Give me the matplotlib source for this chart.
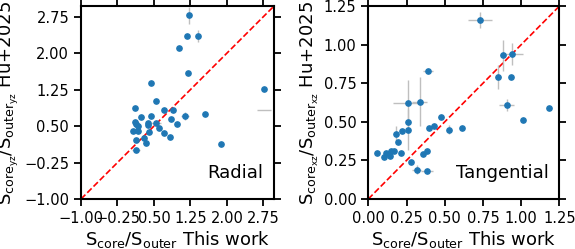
import matplotlib
matplotlib.use('Agg')
import matplotlib.pyplot as plt

plt.rcParams['mathtext.default'] = 'regular'

# Radial: this work vs Hu+2025
rad_x = [1.22, 1.17, 1.41, 1.02, 1.21, 2.76, 0.44, 0.54, 0.12, 0.70, 0.89, 0.24,
         0.44, 1.14, 1.54, 0.86, 0.12, 0.13, 0.17, 0.37, 0.37, 0.54, 0.98, 0.61,
         0.07, 0.18, 0.40, 0.70, 0.84, 0.13, 0.29, 0.33, 1.88, 0.13]
rad_y = [2.78, 2.35, 2.35, 2.10, 1.60, 1.27, 1.39, 1.01, 0.87, 0.83, 0.83, 0.68,
         0.71, 0.70, 0.75, 0.64, 0.59, 0.55, 0.50, 0.56, 0.52, 0.56, 0.54, 0.46,
         0.39, 0.39, 0.37, 0.35, 0.28, 0.21, 0.25, 0.16, 0.14, 0.00]
rad_xerr = [0.02, 0.02, 0.03, 0.02, 0.02, 0.02, 0.02, 0.02, 0.02, 0.02, 0.02, 0.05,
            0.02, 0.08, 0.02, 0.02, 0.02, 0.02, 0.02, 0.02, 0.02, 0.10, 0.02, 0.02,
            0.02, 0.02, 0.02, 0.02, 0.02, 0.02, 0.02, 0.05, 0.02, 0.08]
rad_yerr = [0.18, 0.03, 0.12, 0.02, 0.02, 0.02, 0.02, 0.02, 0.02, 0.02, 0.02, 0.02,
            0.02, 0.08, 0.02, 0.02, 0.02, 0.02, 0.02, 0.02, 0.02, 0.02, 0.02, 0.02,
            0.02, 0.02, 0.02, 0.02, 0.02, 0.02, 0.02, 0.04, 0.02, 0.02]
# errorbar with no visible marker
rad_extra = (2.76, 0.83, 0.14)

# Tangential
tan_x = [0.73, 0.88, 0.94, 0.85, 0.93, 0.905, 1.01, 1.18, 0.39, 0.26, 0.336, 0.257,
         0.257, 0.18, 0.22, 0.194, 0.059, 0.105, 0.113, 0.144, 0.15, 0.168, 0.214,
         0.28, 0.316, 0.384, 0.356, 0.384, 0.40, 0.43, 0.478, 0.53, 0.61]
tan_y = [1.16, 0.93, 0.94, 0.79, 0.79, 0.61, 0.51, 0.59, 0.83, 0.62, 0.63, 0.50,
         0.45, 0.42, 0.44, 0.37, 0.30, 0.27, 0.30, 0.28, 0.31, 0.31, 0.30,
         0.24, 0.19, 0.18, 0.29, 0.31, 0.46, 0.47, 0.53, 0.45, 0.46]
tan_xerr = [0.08, 0.02, 0.07, 0.02, 0.01, 0.05, 0.01, 0.01, 0.03, 0.10, 0.05, 0.01,
            0.01, 0.01, 0.01, 0.01, 0.01, 0.01, 0.01, 0.01, 0.01, 0.01, 0.01,
            0.01, 0.03, 0.04, 0.01, 0.01, 0.01, 0.01, 0.02, 0.01, 0.01]
tan_yerr = [0.05, 0.10, 0.07, 0.08, 0.01, 0.04, 0.01, 0.01, 0.01, 0.15, 0.16, 0.01,
            0.13, 0.05, 0.01, 0.01, 0.01, 0.01, 0.01, 0.01, 0.01, 0.01, 0.01,
            0.01, 0.03, 0.01, 0.01, 0.01, 0.01, 0.01, 0.01, 0.03, 0.01]

rad_lim = (-1.0, 2.97)
rad_ticks = [-1.00, -0.25, 0.50, 1.25, 2.00, 2.75]
tan_lim = (0.0, 1.25)
tan_ticks = [0.00, 0.25, 0.50, 0.75, 1.00, 1.25]


def panel(ax, x, y, xerr, yerr, lim, ticks, sub, name):
    ax.errorbar(x, y, xerr=xerr, yerr=yerr, fmt='o', color='C0', ms=3.8,
                ecolor='0.75', elinewidth=1, capsize=0, zorder=3)
    ax.plot(lim, lim, color='red', ls='--', lw=1.2, zorder=2)
    ax.set_xlim(lim)
    ax.set_ylim(lim)
    ax.set_xticks(ticks)
    ax.set_yticks(ticks)
    labels = [('%.2f' % t).replace('-', '\u2212') for t in ticks]
    ax.set_xticklabels(labels)
    ax.set_yticklabels(labels)
    ax.tick_params(direction='out', top=True, right=True, labelsize=10.5,
                   width=1.3, length=5)
    for s in ax.spines.values():
        s.set_linewidth(1.5)
    ax.set_xlabel(r'$S_{core}/S_{outer}$ This work', fontsize=13, labelpad=2)
    ax.set_ylabel(r'$S_{core_{%s}}/S_{outer_{%s}}$ Hu+2025' % (sub, sub),
                  fontsize=13, labelpad=2)
    ax.text(0.945, 0.09, name, transform=ax.transAxes, ha='right',
            va='bottom', fontsize=13)


def main():
    fig = plt.figure(figsize=(5.75, 2.49), dpi=100)
    ax1 = fig.add_axes([0.1409, 0.2008, 0.3357, 0.775])
    ax2 = fig.add_axes([0.6405, 0.2008, 0.3325, 0.775])
    panel(ax1, rad_x, rad_y, rad_xerr, rad_yerr, rad_lim, rad_ticks, 'yz', 'Radial')
    ax1.errorbar([rad_extra[0]], [rad_extra[1]], xerr=[rad_extra[2]], fmt='none',
                 ecolor='0.75', elinewidth=1)
    panel(ax2, tan_x, tan_y, tan_xerr, tan_yerr, tan_lim, tan_ticks, 'xz', 'Tangential')
    fig.savefig('out.png', dpi=100)


if __name__ == '__main__':
    main()
